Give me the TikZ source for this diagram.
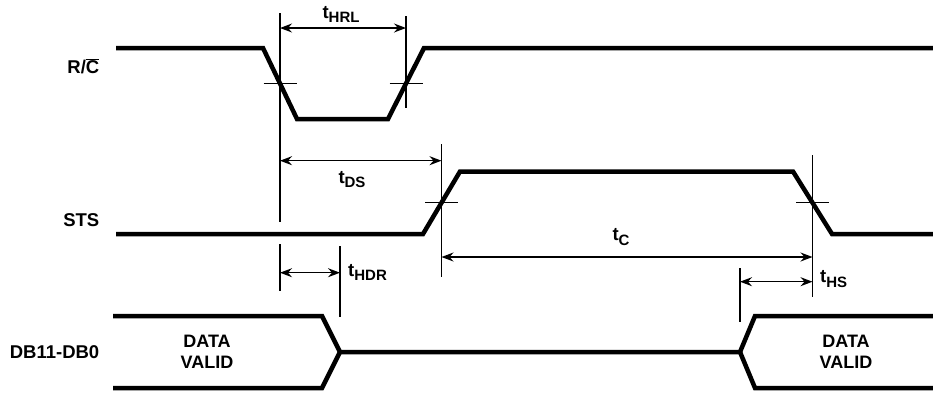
\documentclass[tikz,border=0pt]{standalone}
\usepackage{fontspec}
\setmainfont{Liberation Sans}
\usetikzlibrary{arrows.meta, calc}
\tikzset{
    signal/.style={
        line width=4.5pt,
        line join=miter
    },
    guide/.style={
        line width=1.1pt
    },
    tickmark/.style={
        line width=1.1pt
    },
    dimarrow/.style={
        <->,
        >={Stealth[length=12pt,width=9pt,inset=4pt]},
        line width=1.3pt
    },
    siglabel/.style={
        anchor=base east,
        inner sep=0pt,
        font=\fontsize{18.5}{21}\selectfont\bfseries
    },
    timelabel/.style={
        anchor=base,
        inner sep=0pt,
        font=\fontsize{18.5}{21}\selectfont\bfseries
    },
    datalabel/.style={
        align=center,
        inner sep=0pt,
        font=\fontsize{18}{21}\selectfont\bfseries
    }
}
\newcommand{\tlab}[1]{t\raisebox{-4.5pt}{\fontsize{15}{17}\selectfont #1}}

\begin{document}
\begin{tikzpicture}[x=1pt, y=-1pt]

    \useasboundingbox (0,0) rectangle (933,392);

    % Crossing points of the edges
    \coordinate (rcf) at (280,83.5);
    \coordinate (rcr) at (406,83.5);
    \coordinate (stsr) at (441.5,202.75);
    \coordinate (stsf) at (812.5,202.75);
    \coordinate (dbv) at (340,352);
    \coordinate (dbw) at (740,352);

    % Signal names
    \node[siglabel] (rc) at (99.5,73.3) {R/$\overline{\mbox{C}}$};
    \node[siglabel] (sts) at (99.5,226.7) {STS};
    \node[siglabel] (db) at (99.5,358) {DB11-DB0};

    % R/C
    \draw[signal] (116,48) -- (263,48) -- (297,119) -- (388,119) -- (424,48) -- (933,48);

    % STS
    \draw[signal] (116,234) -- (423,234) -- (460,171.5) -- (793,171.5) -- (832,234) -- (933,234);

    % DB11-DB0
    \draw[signal] (113,316) -- (322,316) -- (dbv) -- (dbw) -- (755,316) -- (933,316);
    \draw[signal] (113,388) -- (322,388) -- (dbv);
    \draw[signal] (dbw) -- (755,388) -- (933,388);
    \node[datalabel] (dv1) at (207,352) {DATA\\VALID};
    \node[datalabel] (dv2) at (846,352) {DATA\\VALID};

    % Ticks
    \draw[tickmark] ($(rcf)+(-16.5,0)$) -- ($(rcf)+(16.5,0)$);
    \draw[tickmark] ($(rcr)+(-16.5,0)$) -- ($(rcr)+(16.5,0)$);
    \draw[tickmark] ($(stsr)+(-16.5,0)$) -- ($(stsr)+(16.5,0)$);
    \draw[tickmark] ($(stsf)+(-16.5,0)$) -- ($(stsf)+(16.5,0)$);

    % Guide lines
    \draw[guide] (rcf |- 0,13) -- (rcf |- 0,222);
    \draw[guide] (rcr |- 0,16) -- (rcr |- 0,108);
    \draw[guide] (stsr |- 0,144) -- (stsr |- 0,277);
    \draw[guide] (stsf |- 0,155) -- (stsf |- 0,297);
    \draw[guide] (rcf |- 0,244) -- (rcf |- 0,291);
    \draw[guide] (dbv |- 0,246) -- (dbv |- 0,317);
    \draw[guide] (dbw |- 0,268) -- (dbw |- 0,322);

    % Timings
    \draw[dimarrow] (rcf |- 0,28) -- (rcr |- 0,28);
    \node[timelabel] (thrl) at (341,18.3) {\tlab{HRL}};

    \draw[dimarrow] (rcf |- 0,160.7) -- (stsr |- 0,160.7);
    \node[timelabel] (tds) at (352,183) {\tlab{DS}};

    \draw[dimarrow] (rcf |- 0,272.7) -- (dbv |- 0,272.7);
    \node[timelabel, anchor=base west] (thdr) at (348,276) {\tlab{HDR}};

    \draw[dimarrow] (stsr |- 0,257) -- (stsf |- 0,257);
    \node[timelabel] (tc) at (621,240.5) {\tlab{C}};

    \draw[dimarrow] (dbw |- 0,281.7) -- (stsf |- 0,281.7);
    \node[timelabel, anchor=base west] (ths) at (820,282.5) {\tlab{HS}};

\end{tikzpicture}
\end{document}
